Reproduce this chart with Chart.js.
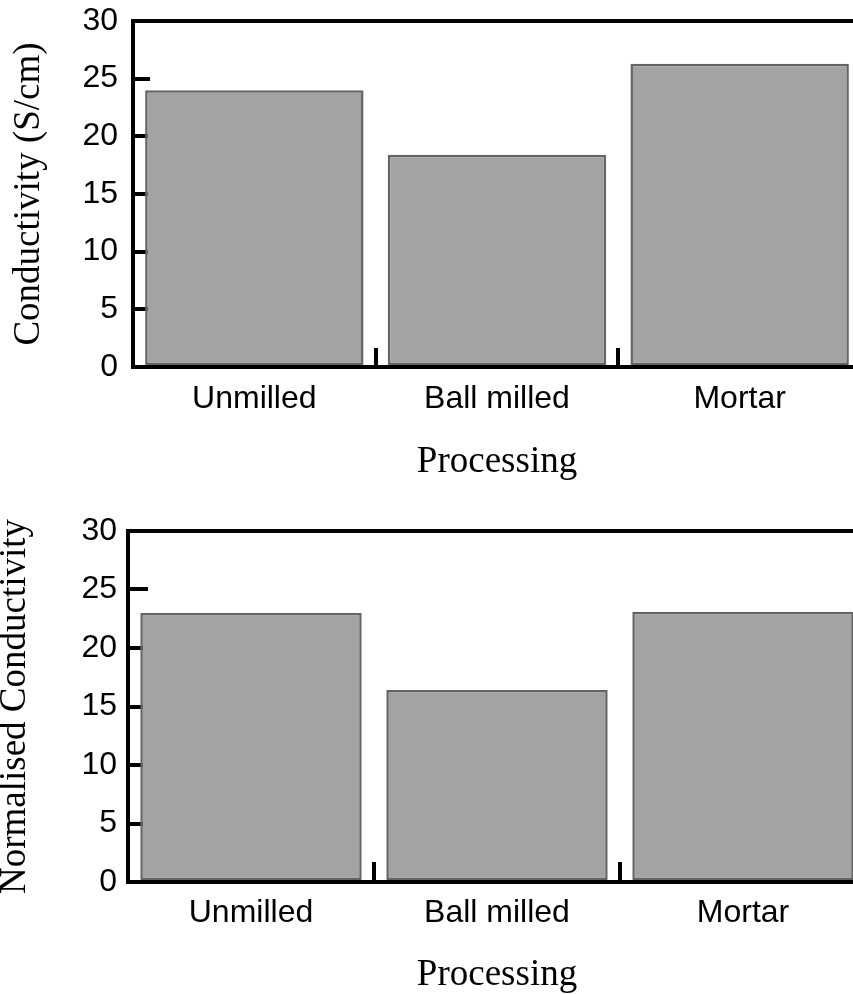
<!DOCTYPE html>
<html lang="en">
<head>
<meta charset="utf-8">
<title>Conductivity by processing</title>
<script src="https://cdn.jsdelivr.net/npm/chart.js"></script>
<style>
  html, body { margin: 0; padding: 0; background: #fff; overflow: hidden; }
  .panel { position: absolute; left: 0; width: 880px; height: 497px; }
</style>
</head>
<body>
  <div class="panel" style="top: 0;"><canvas id="topChart" width="880" height="497"></canvas></div>
  <div class="panel" style="top: 497px;"><canvas id="bottomChart" width="880" height="497"></canvas></div>

<script>
  // data
  const categories = ['Unmilled', 'Ball milled', 'Mortar'];
  const conductivity = [24.0, 18.4, 26.3];
  const normalisedConductivity = [23.0, 16.4, 23.1];
  const yMin = 0, yMax = 30, yStep = 5;

  const tickFont = { family: 'Liberation Sans, Arial, sans-serif', size: 32, lineHeight: 1 };
  const titleFont = { family: 'Liberation Serif, Times New Roman, serif', size: 37, lineHeight: 1 };

  // top frame line (the chart has a closed top edge)
  const topFrame = {
    id: 'topFrame',
    afterDraw(chart) {
      const a = chart.chartArea, ctx = chart.ctx;
      ctx.save();
      ctx.strokeStyle = '#000';
      ctx.lineWidth = 4;
      ctx.beginPath();
      ctx.moveTo(a.left - 2, a.top);
      ctx.lineTo(chart.width, a.top);
      ctx.stroke();
      ctx.restore();
    }
  };

  function makeChart(id, values, yTitle, g) {
    return new Chart(document.getElementById(id), {
      type: 'bar',
      data: {
        labels: categories,
        datasets: [{
          data: values,
          backgroundColor: '#a3a3a3',
          borderColor: '#646464',
          borderWidth: 2.5,
          borderSkipped: false,
          categoryPercentage: 1,
          barPercentage: 0.9
        }]
      },
      options: {
        responsive: false,
        devicePixelRatio: 1,
        animation: false,
        layout: { padding: { top: g.top, right: g.right, left: 0, bottom: 0 } },
        plugins: { legend: { display: false }, tooltip: { enabled: false } },
        scales: {
          x: {
            border: { display: true, color: '#000', width: 4 },
            grid: { display: true, drawOnChartArea: false, drawTicks: true, tickLength: -g.xTick, lineWidth: 4, color: '#000' },
            ticks: { color: '#000', font: tickFont, padding: g.xPad, maxRotation: 0 },
            title: { display: true, text: 'Processing', color: '#000', font: titleFont, padding: { top: 0, bottom: g.xTitlePad } },
            afterFit: (s) => { s.height = g.xHeight; s.paddingLeft = 0; s.paddingRight = 0; }
          },
          y: {
            min: yMin,
            max: yMax,
            border: { display: true, color: '#000', width: 4 },
            grid: { display: true, drawOnChartArea: false, drawTicks: true, tickLength: -g.yTick, lineWidth: 4, color: '#000' },
            ticks: { stepSize: yStep, color: '#000', font: tickFont, padding: g.yPad },
            title: { display: true, text: yTitle, color: '#000', font: titleFont, padding: { top: g.yTitlePad, bottom: 0 } },
            afterFit: (s) => { s.width = g.yWidth; s.paddingTop = 0; s.paddingBottom = 0; }
          }
        }
      },
      plugins: [topFrame]
    });
  }

  makeChart('topChart', conductivity, 'Conductivity (S/cm)', {
    top: 21, right: 19, yWidth: 133, xHeight: 130,
    yTick: 17, yPad: 32, xTick: 19, xPad: 35,
    xTitlePad: 16.5, yTitlePad: 10.5
  });

  makeChart('bottomChart', normalisedConductivity, 'Normalised Conductivity', {
    top: 34, right: 14, yWidth: 128, xHeight: 112,
    yTick: 20, yPad: 31, xTick: 20, xPad: 35,
    xTitlePad: 0.5, yTitlePad: -3.5
  });
</script>
</body>
</html>
